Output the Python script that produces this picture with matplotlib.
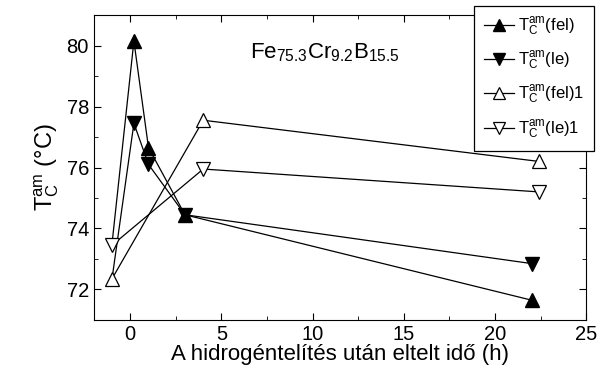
import matplotlib
matplotlib.use('Agg')
import matplotlib.pyplot as plt
from matplotlib.ticker import MultipleLocator

plt.rcParams['font.family'] = ['Liberation Sans', 'DejaVu Sans']
plt.rcParams['mathtext.fontset'] = 'custom'
plt.rcParams['mathtext.rm'] = 'Liberation Sans'
plt.rcParams['mathtext.default'] = 'regular'

# filled symbols
t_fel = [-1, 0.2, 1, 3, 22]
tc_fel = [73.5, 80.15, 76.65, 74.45, 71.65]
t_le = [-1, 0.2, 1, 3, 22]
tc_le = [72.35, 77.45, 76.1, 74.45, 72.85]
# open symbols
t_fel1 = [-1, 4, 22.4]
tc_fel1 = [72.35, 77.55, 76.2]
t_le1 = [-1, 4, 22.4]
tc_le1 = [73.45, 75.95, 75.2]

labels = [r'$T_C^{am}$(fel)', r'$T_C^{am}$(le)', r'$T_C^{am}$(fel)1', r'$T_C^{am}$(le)1']

fig = plt.figure(figsize=(6.05, 3.76), dpi=100)
ax = fig.add_axes([0.155, 0.149, 0.814, 0.811])

ms = 10
ax.plot(t_fel, tc_fel, '-^', color='black', lw=0.9, ms=ms, mfc='black',
        markevery=slice(1, None), label=labels[0], zorder=2)
ax.plot(t_le, tc_le, '-v', color='black', lw=0.9, ms=ms, mfc='black',
        markevery=slice(1, None), label=labels[1], zorder=2)
ax.plot(t_fel1, tc_fel1, '-^', color='black', lw=0.9, ms=ms, mfc='white', mew=0.9,
        label=labels[2], zorder=3)
ax.plot(t_le1, tc_le1, '-v', color='black', lw=0.9, ms=ms, mfc='white', mew=0.9,
        label=labels[3], zorder=3)

ax.set_xlim(-2, 25)
ax.set_ylim(71, 81)
ax.xaxis.set_major_locator(MultipleLocator(5))
ax.xaxis.set_minor_locator(MultipleLocator(2.5))
ax.yaxis.set_major_locator(MultipleLocator(2))
ax.yaxis.set_minor_locator(MultipleLocator(1))
ax.tick_params(which='both', direction='in', top=True, right=True, labelsize=14.5)
ax.tick_params(which='major', length=5)
ax.tick_params(which='minor', length=3)

ax.set_xlabel('A hidrogéntelítés után eltelt idő (h)', fontsize=16, labelpad=0)
ax.set_ylabel(r'$T_C^{am}$ (°C)', fontsize=17, labelpad=4)

ax.text(0.318, 0.876, r'Fe$_{75.3}$Cr$_{9.2}$B$_{15.5}$', transform=ax.transAxes,
        fontsize=16, va='center', ha='left')

leg = fig.legend(loc='upper right', bbox_to_anchor=(0.982, 0.985), fontsize=12,
                 frameon=True, fancybox=False, edgecolor='black', framealpha=1,
                 handlelength=1.8, handletextpad=0.25, borderpad=0.6, labelspacing=0.7,
                 borderaxespad=0, markerscale=0.85)
leg.get_frame().set_linewidth(0.9)

fig.savefig('out.png', dpi=100)
